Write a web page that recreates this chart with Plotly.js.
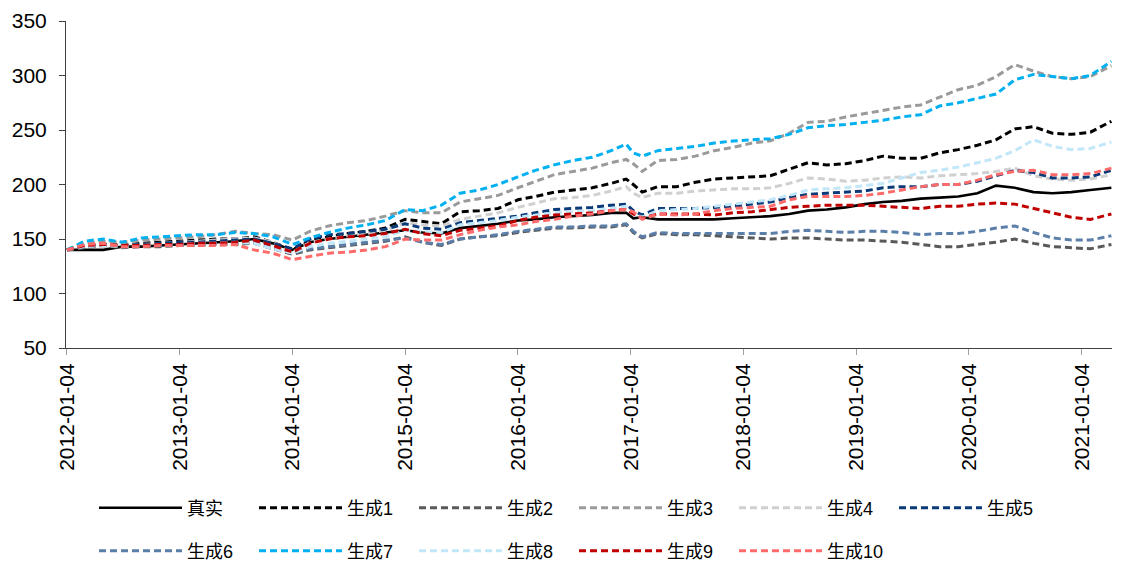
<!DOCTYPE html>
<html><head><meta charset="utf-8">
<script src="https://cdn.plot.ly/plotly-3.0.1.min.js"></script>
<style>html,body{margin:0;padding:0;background:#fff}#chart{width:1122px;height:570px}</style>
</head><body><div id="chart"></div>
<script>
const dates = ['2012-01-04','2012-03-01','2012-05-01','2012-07-01','2012-09-01','2012-11-01',
'2013-01-04','2013-03-01','2013-05-01','2013-07-01','2013-09-01','2013-11-01',
'2014-01-04','2014-03-01','2014-05-01','2014-07-01','2014-09-01','2014-11-01',
'2015-01-04','2015-03-01','2015-05-01','2015-07-01','2015-09-01','2015-11-01',
'2016-01-04','2016-03-01','2016-05-01','2016-07-01','2016-09-01','2016-11-01','2016-12-20',
'2017-01-12','2017-02-10','2017-04-01','2017-06-01','2017-08-01','2017-10-01','2017-12-01',
'2018-02-01','2018-04-01','2018-06-01','2018-08-01','2018-10-01','2018-12-01',
'2019-02-01','2019-04-01','2019-06-01','2019-08-01','2019-10-01','2019-12-01',
'2020-02-01','2020-04-01','2020-06-01','2020-08-01','2020-10-01','2020-12-01',
'2021-02-01','2021-04-10'];

const tickDates = ['2012-01-04','2013-01-04','2014-01-04','2015-01-04','2016-01-04','2017-01-04','2018-01-04','2019-01-04','2020-01-04','2021-01-04'];

const seriesNames = ['真实','生成1','生成2','生成3','生成4','生成5','生成6','生成7','生成8','生成9','生成10'];

const real  = [140,140,140,143,143,144,145,146,147,148,150,146,140,147,150,152,154,156,158,156,155,160,162,164,167,168,170,171,172,174,174,169,170,168,168,168,168,169,170,171,173,176,177,179,182,184,185,187,188,189,192,199,197,193,192,193,195,197];
const gen1  = [140,143,145,144,146,147,148,149,150,150,152,147,140,149,152,155,157,160,168,166,164,175,176,178,186,189,193,195,197,201,205,200,193,198,198,202,205,206,207,208,214,220,218,219,222,226,224,224,229,232,236,241,251,253,247,246,248,258];
const gen2  = [140,142,144,142,143,143,144,144,145,145,146,141,136,140,142,144,146,148,152,147,144,150,152,153,156,158,160,160,161,161,163,156,151,155,154,154,153,152,151,150,151,151,150,149,149,148,147,145,143,143,145,147,150,146,143,142,141,145];
const gen3  = [140,146,148,147,149,150,151,152,154,157,155,154,149,157,162,165,167,171,176,174,174,184,187,190,197,203,209,212,215,220,223,219,212,222,223,226,231,234,238,240,247,257,258,262,265,268,271,273,280,287,291,299,310,304,299,297,299,309];
const gen4  = [140,144,145,144,145,146,147,148,149,150,151,147,138,147,150,153,155,158,165,163,162,168,171,174,179,183,187,188,190,194,198,192,188,192,192,194,195,196,196,197,201,206,205,203,204,206,207,206,208,209,210,212,215,208,205,204,205,209];
const gen5  = [140,144,145,144,145,146,147,147,148,149,150,146,141,150,154,155,157,159,164,160,159,165,167,169,171,174,177,178,179,181,182,176,172,178,178,178,179,180,182,184,188,191,192,193,194,197,198,198,200,200,203,208,213,211,206,206,207,213];
const gen6  = [140,143,145,143,144,144,145,145,146,146,147,142,137,141,143,145,147,149,151,147,145,150,152,154,157,159,161,161,162,162,164,157,152,156,155,155,155,155,155,155,157,158,157,156,157,157,156,154,155,155,157,160,162,156,151,149,149,153];
const gen7  = [140,148,150,147,151,152,153,154,154,156,155,152,145,151,156,160,163,167,177,176,181,192,195,200,207,213,218,222,225,231,237,229,226,231,233,235,238,240,241,242,246,252,254,255,257,259,262,264,272,275,279,283,296,301,299,297,300,313];
const gen8  = [140,143,144,143,144,145,145,146,146,147,146,141,137,143,146,148,150,152,158,157,156,163,165,167,170,172,174,175,176,178,180,173,170,176,177,178,180,182,184,186,190,195,196,197,199,201,206,211,213,216,220,224,231,241,235,232,233,239];
const gen9  = [140,144,145,144,144,145,145,146,146,147,149,144,138,146,150,152,153,155,159,155,153,158,160,162,167,170,172,173,174,176,177,173,169,173,173,173,172,174,175,177,179,180,181,181,181,180,179,178,180,180,182,183,182,178,174,170,168,173];
const gen10 = [140,145,146,143,143,144,144,144,144,145,140,137,131,134,137,138,140,143,150,149,149,154,158,161,163,166,168,171,173,176,177,175,168,173,172,173,176,178,179,180,186,189,189,189,190,192,195,198,200,200,204,209,212,213,209,209,210,215];

const seriesValues = [real, gen1, gen2, gen3, gen4, gen5, gen6, gen7, gen8, gen9, gen10];
const seriesColors = ['#000000','#000000','#595959','#9a9a9a','#d0d0d0','#0b3a78','#5b7fa8','#00b0f0','#c2e7f8','#c00000','#ff6b6b'];

const traces = seriesNames.map((n, i) => ({
  type: 'scatter', mode: 'lines', name: n, x: dates, y: seriesValues[i],
  line: {color: seriesColors[i], width: i === 0 ? 2.6 : 3, dash: i === 0 ? 'solid' : '7px,4px'},
  legend: i < 6 ? 'legend' : 'legend2', hoverinfo: 'skip'
}));

const legendBase = {
  orientation: 'h', xref: 'container', yref: 'container', xanchor: 'left', yanchor: 'middle',
  entrywidth: 62, entrywidthmode: 'pixels', itemwidth: 83, bgcolor: 'rgba(0,0,0,0)',
  font: {family: 'Liberation Sans, Arial, Noto Sans CJK SC, sans-serif', size: 18, color: '#000'},
  traceorder: 'normal', itemclick: false
};

const layout = {
  width: 1122, height: 570,
  margin: {l: 66, r: 10, t: 21, b: 222},
  paper_bgcolor: '#ffffff', plot_bgcolor: '#ffffff',
  font: {family: 'Liberation Sans, Arial, Noto Sans CJK SC, sans-serif', size: 21, color: '#000'},
  xaxis: {
    type: 'date', range: ['2012-01-01', '2021-04-12'],
    tickmode: 'array', tickvals: tickDates, ticktext: tickDates, tickangle: -90,
    ticks: 'outside', ticklen: 6, tickcolor: '#a0a0a0', tickwidth: 1,
    showline: true, linecolor: '#404040', linewidth: 1,
    showgrid: false, zeroline: false, tickfont: {size: 21, color: '#000'}
  },
  yaxis: {
    range: [50, 350], tick0: 50, dtick: 50,
    ticks: 'outside', ticklen: 6, tickcolor: '#404040', tickwidth: 1,
    showline: true, linecolor: '#404040', linewidth: 1,
    showgrid: false, zeroline: false, tickfont: {size: 21, color: '#000'},
    ticklabelstandoff: 8
  },
  showlegend: true,
  legend: Object.assign({}, legendBase, {x: 94 / 1122, y: 1 - 508 / 570}),
  legend2: Object.assign({}, legendBase, {x: 94 / 1122, y: 1 - 551 / 570})
};

Plotly.newPlot('chart', traces, layout, {staticPlot: true, displayModeBar: false});
</script>
</body></html>
